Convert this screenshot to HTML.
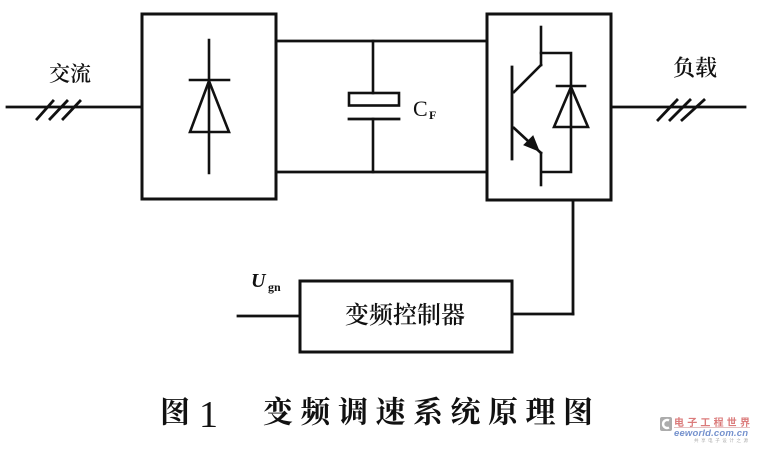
<!DOCTYPE html>
<html>
<head>
<meta charset="utf-8">
<style>
  html, body { margin: 0; padding: 0; background: #fff; }
  body { width: 757px; height: 451px; overflow: hidden; }
  svg { display: block; }
</style>
</head>
<body>
<svg width="757" height="451" viewBox="0 0 757 451" xmlns="http://www.w3.org/2000/svg">
  <rect width="757" height="451" fill="#fff"/>
  <g stroke="#111" fill="none" stroke-linecap="square">
    <!-- input AC line -->
    <line x1="7" y1="107" x2="142" y2="107" stroke-width="2.8"/>
    <line x1="37" y1="119" x2="53" y2="101" stroke-width="2.8"/>
    <line x1="50" y1="119" x2="67" y2="101" stroke-width="2.8"/>
    <line x1="63" y1="119" x2="80" y2="101" stroke-width="2.8"/>

    <!-- rectifier box -->
    <rect x="142" y="14" width="134" height="185" stroke-width="3"/>
    <line x1="209" y1="40" x2="209" y2="173" stroke-width="2.6"/>
    <line x1="190" y1="80" x2="229" y2="80" stroke-width="2.6"/>
    <polygon points="209,81 190,132 229,132" stroke-width="2.6" stroke-linejoin="miter"/>

    <!-- DC bus -->
    <line x1="276" y1="41" x2="487" y2="41" stroke-width="2.8"/>
    <line x1="276" y1="172" x2="487" y2="172" stroke-width="2.8"/>

    <!-- capacitor -->
    <line x1="373" y1="41" x2="373" y2="93" stroke-width="2.6"/>
    <rect x="349" y="93" width="50" height="12.5" stroke-width="2.6"/>
    <line x1="349" y1="119" x2="399" y2="119" stroke-width="2.8"/>
    <line x1="373" y1="119" x2="373" y2="172" stroke-width="2.6"/>

    <!-- inverter box -->
    <rect x="487" y="14" width="124" height="186" stroke-width="3"/>
    <!-- IGBT -->
    <line x1="541" y1="27" x2="541" y2="65" stroke-width="2.6"/>
    <line x1="541" y1="65" x2="514" y2="92" stroke-width="2.6"/>
    <line x1="512" y1="67" x2="512" y2="159" stroke-width="2.8"/>
    <line x1="514" y1="128" x2="541" y2="153" stroke-width="2.6"/>
    <line x1="541" y1="153" x2="541" y2="185" stroke-width="2.6"/>
    <polygon points="539,151 524,145 533,136" fill="#111" stroke-width="1"/>
    <!-- freewheel diode -->
    <polyline points="541,53 571,53 571,172 543,172" stroke-width="2.6"/>
    <line x1="557" y1="86" x2="585" y2="86" stroke-width="2.6"/>
    <polygon points="571,87 554,127 588,127" stroke-width="2.6"/>

    <!-- output line -->
    <line x1="611" y1="107" x2="745" y2="107" stroke-width="2.8"/>
    <line x1="658" y1="120" x2="677" y2="100" stroke-width="2.8"/>
    <line x1="670" y1="120" x2="690" y2="100" stroke-width="2.8"/>
    <line x1="682" y1="120" x2="704" y2="100" stroke-width="2.8"/>

    <!-- feedback from inverter to controller -->
    <line x1="573" y1="200" x2="573" y2="314" stroke-width="2.8"/>
    <line x1="512" y1="314" x2="573" y2="314" stroke-width="2.8"/>

    <!-- controller box -->
    <rect x="300" y="281" width="212" height="71" stroke-width="3"/>
    <line x1="238" y1="316" x2="300" y2="316" stroke-width="2.8"/>
  </g>

  <!-- labels -->
  <g fill="#111">
    <text x="70" y="74" font-family="'Liberation Serif','Noto Serif CJK SC',serif" font-size="21" font-weight="600" text-anchor="middle" dominant-baseline="central">交流</text>
    <text x="695" y="68" font-family="'Liberation Serif','Noto Serif CJK SC',serif" font-size="22" font-weight="600" text-anchor="middle" dominant-baseline="central">负载</text>
    <text x="405" y="316" font-family="'Liberation Serif','Noto Serif CJK SC',serif" font-size="24" font-weight="600" text-anchor="middle" dominant-baseline="central">变频控制器</text>

    <text x="413" y="116" font-family="'Liberation Serif',serif" font-size="22">C</text>
    <text x="429" y="119" font-family="'Liberation Serif',serif" font-size="12" font-weight="bold">F</text>

    <text x="251" y="287" font-family="'Liberation Serif',serif" font-size="20" font-style="italic" font-weight="bold">U</text>
    <text x="268" y="291" font-family="'Liberation Serif',serif" font-size="12" font-weight="bold">gn</text>
  </g>

  <!-- caption -->
  <g fill="#111" font-family="'Liberation Serif','Noto Serif CJK SC',serif" font-size="30" font-weight="bold" dominant-baseline="central">
    <text x="160" y="413">图</text>
    <text x="199" y="427" font-family="'Liberation Serif',serif" font-size="38" font-weight="normal" dominant-baseline="auto">1</text>
    <text x="263" y="413">变</text>
    <text x="300.5" y="413">频</text>
    <text x="338" y="413">调</text>
    <text x="375.5" y="413">速</text>
    <text x="413" y="413">系</text>
    <text x="450.5" y="413">统</text>
    <text x="488" y="413">原</text>
    <text x="525.5" y="413">理</text>
    <text x="563" y="413">图</text>
  </g>

  <!-- watermark logo -->
  <g opacity="0.7">
    <rect x="660" y="417" width="12" height="14" rx="2" fill="#8a8a8a"/>
    <path d="M669,420.5 A4,4 0 1 0 669,427.5" stroke="#fff" stroke-width="2.4" fill="none"/>
    <text x="674" y="426" font-family="'Liberation Sans','Noto Sans CJK SC',sans-serif" font-size="10" font-weight="bold" fill="#c44" textLength="76">电子工程世界</text>
    <line x1="674" y1="427.5" x2="750" y2="427.5" stroke="#c88" stroke-width="0.8"/>
    <text x="674" y="436" font-family="'Liberation Sans',sans-serif" font-size="9.5" font-style="italic" font-weight="bold" fill="#3a63b8" textLength="74">eeworld.com.cn</text>
    <text x="694" y="442" font-family="'Liberation Sans','Noto Sans CJK SC',sans-serif" font-size="4.5" fill="#888" textLength="54">共享电子设计之源</text>
  </g>
</svg>
</body>
</html>
